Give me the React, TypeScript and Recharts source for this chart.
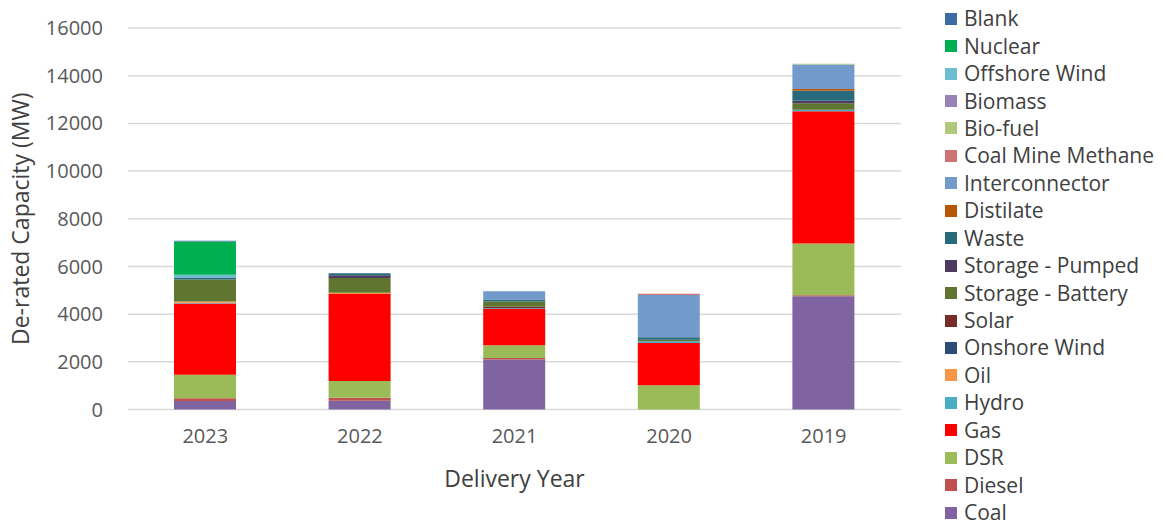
import React from "react";
import {
  BarChart,
  Bar,
  XAxis,
  YAxis,
  CartesianGrid,
  Label,
} from "recharts";

// Delivery years, in the order they appear on the axis
const years = ["2023", "2022", "2021", "2020", "2019"];

// De-rated capacity (MW) per technology, one value per delivery year
const coal = [360, 370, 2100, 0, 4750];
const diesel = [115, 125, 60, 0, 40];
const dsr = [980, 700, 530, 1020, 2175];
const gas = [2990, 3650, 1530, 1770, 5545];
const hydro = [30, 0, 30, 70, 60];
const oil = [55, 50, 0, 0, 0];
const onshoreWind = [0, 0, 0, 0, 0];
const solar = [0, 0, 70, 0, 0];
const storageBattery = [925, 620, 210, 70, 270];
const storagePumped = [0, 120, 0, 0, 110];
const waste = [85, 80, 85, 100, 420];
const distilate = [0, 0, 0, 0, 70];
const interconnector = [0, 0, 340, 1770, 1025];
const coalMineMethane = [0, 0, 0, 55, 0];
const bioFuel = [0, 0, 0, 0, 40];
const biomass = [0, 0, 0, 0, 0];
const offshoreWind = [110, 0, 0, 0, 0];
const nuclear = [1400, 0, 0, 0, 0];
const blank = [30, 0, 0, 0, 0];

const yTicks = [0, 2000, 4000, 6000, 8000, 10000, 12000, 14000, 16000];

// stacking order, bottom to top
const series = [
  { name: "Coal", values: coal, color: "#8064A2" },
  { name: "Diesel", values: diesel, color: "#C0504D" },
  { name: "DSR", values: dsr, color: "#9BBB59" },
  { name: "Gas", values: gas, color: "#FF0000" },
  { name: "Hydro", values: hydro, color: "#4BACC6" },
  { name: "Oil", values: oil, color: "#F79646" },
  { name: "Onshore Wind", values: onshoreWind, color: "#2C4D75" },
  { name: "Solar", values: solar, color: "#772C2A" },
  { name: "Storage - Battery", values: storageBattery, color: "#5F7530" },
  { name: "Storage - Pumped", values: storagePumped, color: "#4D3B62" },
  { name: "Waste", values: waste, color: "#276A7C" },
  { name: "Distilate", values: distilate, color: "#B65708" },
  { name: "Interconnector", values: interconnector, color: "#729ACA" },
  { name: "Coal Mine Methane", values: coalMineMethane, color: "#CD7371" },
  { name: "Bio-fuel", values: bioFuel, color: "#AFC97A" },
  { name: "Biomass", values: biomass, color: "#9983B5" },
  { name: "Offshore Wind", values: offshoreWind, color: "#6FBDD1" },
  { name: "Nuclear", values: nuclear, color: "#00B050" },
  { name: "Blank", values: blank, color: "#3C6AA4" },
];

const chartData = years.map((year, i) => {
  const row: Record<string, string | number> = { year };
  series.forEach((s) => {
    row[s.name] = s.values[i];
  });
  return row;
});

const FONT = "'Open Sans', sans-serif";

const YTitle = () => (
  <text
    x={20}
    y={218.75}
    transform="rotate(-90 20 218.75)"
    textAnchor="middle"
    dominantBaseline="central"
    fontSize={23}
    fill="#404040"
    fontFamily={FONT}
  >
    De-rated Capacity (MW)
  </text>
);

const App: React.FC = () => {
  return (
    <div
      style={{
        position: "absolute",
        left: 0,
        top: 0,
        width: 1166,
        height: 524,
        background: "#fff",
        fontFamily: FONT,
      }}
    >
      <BarChart
        width={1166}
        height={524}
        data={chartData}
        margin={{ top: 28, right: 265, left: 0, bottom: 0 }}
      >
        <CartesianGrid
          vertical={false}
          stroke="#D9D9D9"
          strokeWidth={1.5}
        />
        <XAxis
          dataKey="year"
          height={114.5}
          axisLine={false}
          tickLine={false}
          tickSize={0}
          tickMargin={19}
          tick={{ fontSize: 20, fill: "#595959", fontFamily: FONT }}
        >
          <Label
            value="Delivery Year"
            position="insideBottom"
            offset={37}
            fontSize={23}
            fill="#404040"
            fontFamily={FONT}
          />
        </XAxis>
        <YAxis
          width={128}
          domain={[0, 16000]}
          ticks={yTicks}
          axisLine={false}
          tickLine={false}
          tickSize={0}
          tickMargin={25}
          tick={{ fontSize: 20, fill: "#595959", fontFamily: FONT }}
        >
          <Label content={<YTitle />} />
        </YAxis>
        {series.map((s) => (
          <Bar
            key={s.name}
            dataKey={s.name}
            stackId="cap"
            fill={s.color}
            barSize={62}
            isAnimationActive={false}
          />
        ))}
      </BarChart>

      {/* legend, listed top to bottom in reverse stacking order */}
      <div style={{ position: "absolute", left: 945, top: 5 }}>
        {[...series].reverse().map((s) => (
          <div
            key={s.name}
            style={{
              display: "flex",
              alignItems: "center",
              height: 27.45,
              whiteSpace: "nowrap",
            }}
          >
            <span
              style={{
                display: "inline-block",
                width: 12,
                height: 12,
                background: s.color,
                marginRight: 7,
              }}
            />
            <span style={{ fontSize: 21, lineHeight: 1, color: "#404040" }}>
              {s.name}
            </span>
          </div>
        ))}
      </div>
    </div>
  );
};

export default App;
